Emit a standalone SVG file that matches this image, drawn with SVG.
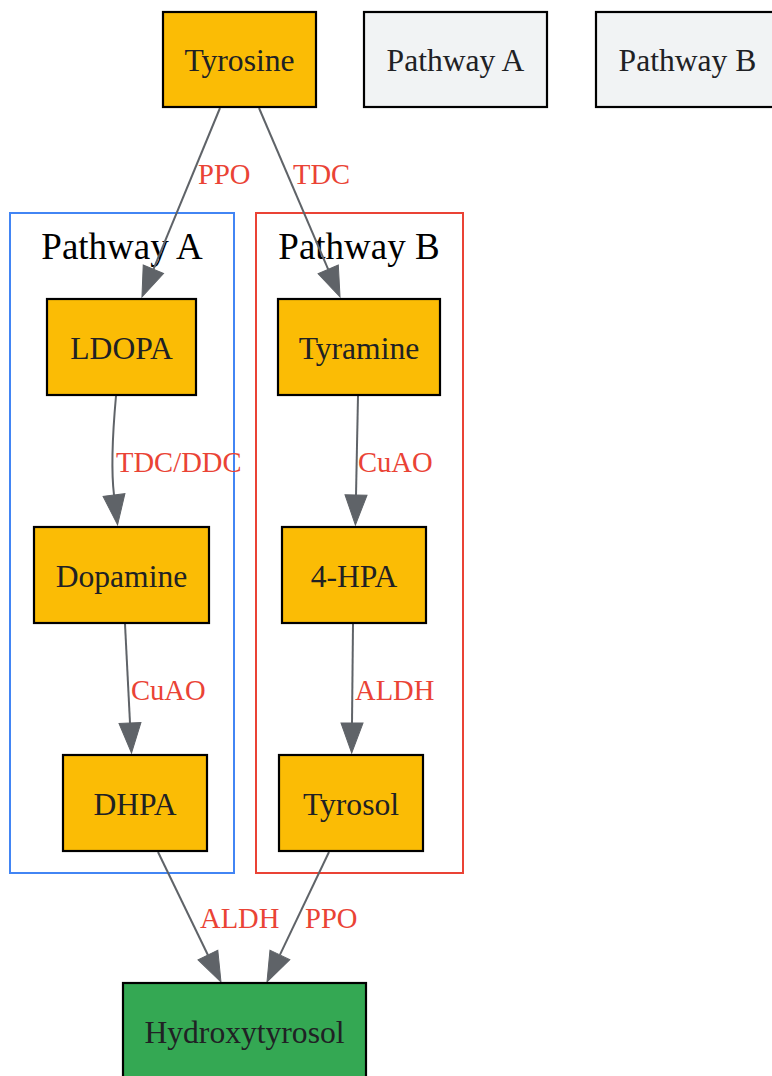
<svg xmlns="http://www.w3.org/2000/svg" width="772" height="1076" viewBox="0 0 772 1076">
<style>
.node rect{stroke:#000;stroke-width:2.2}
.pw rect{fill:#fbbc05}
.leg rect{fill:#f1f3f4}
.node text{font-family:"Liberation Serif",serif;font-size:31.6px;fill:#202124;text-anchor:middle}
.cl text{font-family:"Liberation Serif",serif;font-size:37px;fill:#000;text-anchor:middle}
.cl rect{fill:none;stroke-width:2}
.edges path{fill:none;stroke:#5f6368;stroke-width:2;marker-end:url(#ah)}
.el{font-family:"Liberation Serif",serif;font-size:28.6px;fill:#ea4335}
</style>
<defs>
<marker id="ah" markerUnits="userSpaceOnUse" markerWidth="32" markerHeight="24" refX="0" refY="11" orient="auto" overflow="visible">
<path d="M0,0 L30,11 L0,22 z" fill="#5f6368" stroke="#5f6368" stroke-width="1"/>
</marker>
</defs>
<rect width="772" height="1076" fill="#fff"/>
<g id="clusterA" class="cl"><rect x="10" y="213" width="224" height="660" stroke="#4285f4"/><text x="122" y="259">Pathway A</text></g>
<g id="clusterB" class="cl"><rect x="256" y="213" width="207" height="660" stroke="#ea4335"/><text x="359" y="259">Pathway B</text></g>
<g id="edges" class="edges">
<path d="M220,108 L153.4,269.3"/>
<path d="M259,108 L328.2,269.4"/>
<path d="M116,396 C112,440 111,470 114,495"/>
<path d="M358,396 L356,495"/>
<path d="M125,624 L130,723"/>
<path d="M353,624 L352,723"/>
<path d="M158,852 L207.9,955"/>
<path d="M329,852 L279.9,954.9"/>
<text class="el" x="198" y="184">PPO</text>
<text class="el" x="293" y="184">TDC</text>
<text class="el" x="116" y="472">TDC/DDC</text>
<text class="el" x="358" y="472">CuAO</text>
<text class="el" x="131" y="700">CuAO</text>
<text class="el" x="355" y="700">ALDH</text>
<text class="el" x="200" y="928">ALDH</text>
<text class="el" x="305" y="928">PPO</text>
</g>
<g id="tyrosine" class="node pw"><rect x="163" y="12" width="153" height="95"/><text x="239.5" y="71">Tyrosine</text></g>
<g id="legendA" class="node leg"><rect x="364" y="12" width="183" height="95"/><text x="455.5" y="71">Pathway A</text></g>
<g id="legendB" class="node leg"><rect x="596" y="12" width="183" height="95"/><text x="687.5" y="71">Pathway B</text></g>
<g id="ldopa" class="node pw"><rect x="47" y="299" width="149" height="96"/><text x="121.5" y="359">LDOPA</text></g>
<g id="tyramine" class="node pw"><rect x="278" y="299" width="162" height="96"/><text x="359" y="359">Tyramine</text></g>
<g id="dopamine" class="node pw"><rect x="34" y="527" width="175" height="96"/><text x="121.5" y="587">Dopamine</text></g>
<g id="hpa" class="node pw"><rect x="282" y="527" width="144" height="96"/><text x="354" y="587">4-HPA</text></g>
<g id="dhpa" class="node pw"><rect x="63" y="755" width="144" height="96"/><text x="135" y="815">DHPA</text></g>
<g id="tyrosol" class="node pw"><rect x="279" y="755" width="144" height="96"/><text x="351" y="815">Tyrosol</text></g>
<g id="hydroxytyrosol" class="node"><rect x="123" y="983" width="243" height="96" fill="#34a853"/><text x="244.5" y="1043">Hydroxytyrosol</text></g>
</svg>
